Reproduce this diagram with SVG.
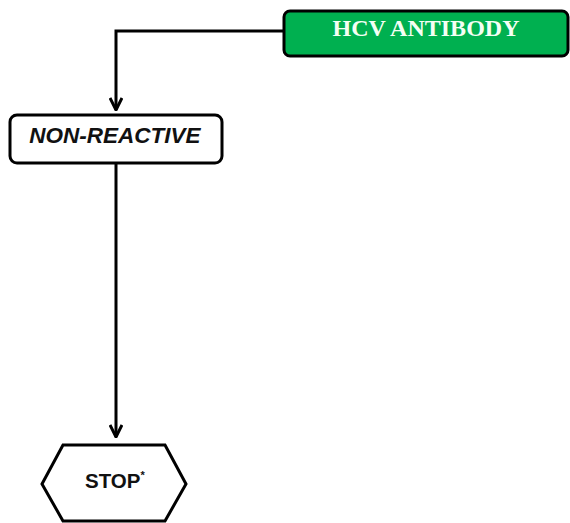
<svg xmlns="http://www.w3.org/2000/svg" width="570" height="523" viewBox="0 0 570 523">
<style>
.box{stroke:#000;stroke-width:3;}
.ln{fill:none;stroke:#000;stroke-width:3;}
.sans{font-family:"Liberation Sans",Arial,sans-serif;font-weight:bold;}
</style>
<defs>
<marker id="ah" viewBox="0 0 14 14" refX="13" refY="7" markerWidth="14" markerHeight="14" markerUnits="userSpaceOnUse" orient="auto">
<path d="M1,1 L13,7 L1,13" fill="none" stroke="#000" stroke-width="3"/>
</marker>
</defs>
<rect width="570" height="523" fill="#fff"/>
<g id="connectors">
<path class="ln" d="M284,31 H116 V110" marker-end="url(#ah)"/>
<path class="ln" d="M116,163 V437" marker-end="url(#ah)"/>
</g>
<g id="hcv">
<rect class="box" x="284" y="11" width="284" height="45" rx="6" fill="#00b050"/>
<text x="426" y="36" text-anchor="middle" font-family="'Liberation Serif','Times New Roman',serif" font-weight="bold" font-size="24" fill="#f4fff4">HCV ANTIBODY</text>
</g>
<g id="nonreactive">
<rect class="box" x="10" y="115" width="212" height="48" rx="7" fill="#fff"/>
<text x="115" y="143" text-anchor="middle" class="sans" font-style="italic" font-size="22.5" fill="#111">NON-REACTIVE</text>
</g>
<g id="stop">
<polygon class="box" points="42,484 63,445 165,445 186,484 165,521 63,521" fill="#fff"/>
<text x="85" y="488" class="sans" font-size="20.5" fill="#111">STOP<tspan font-size="11" dy="-9">*</tspan></text>
</g>
</svg>
